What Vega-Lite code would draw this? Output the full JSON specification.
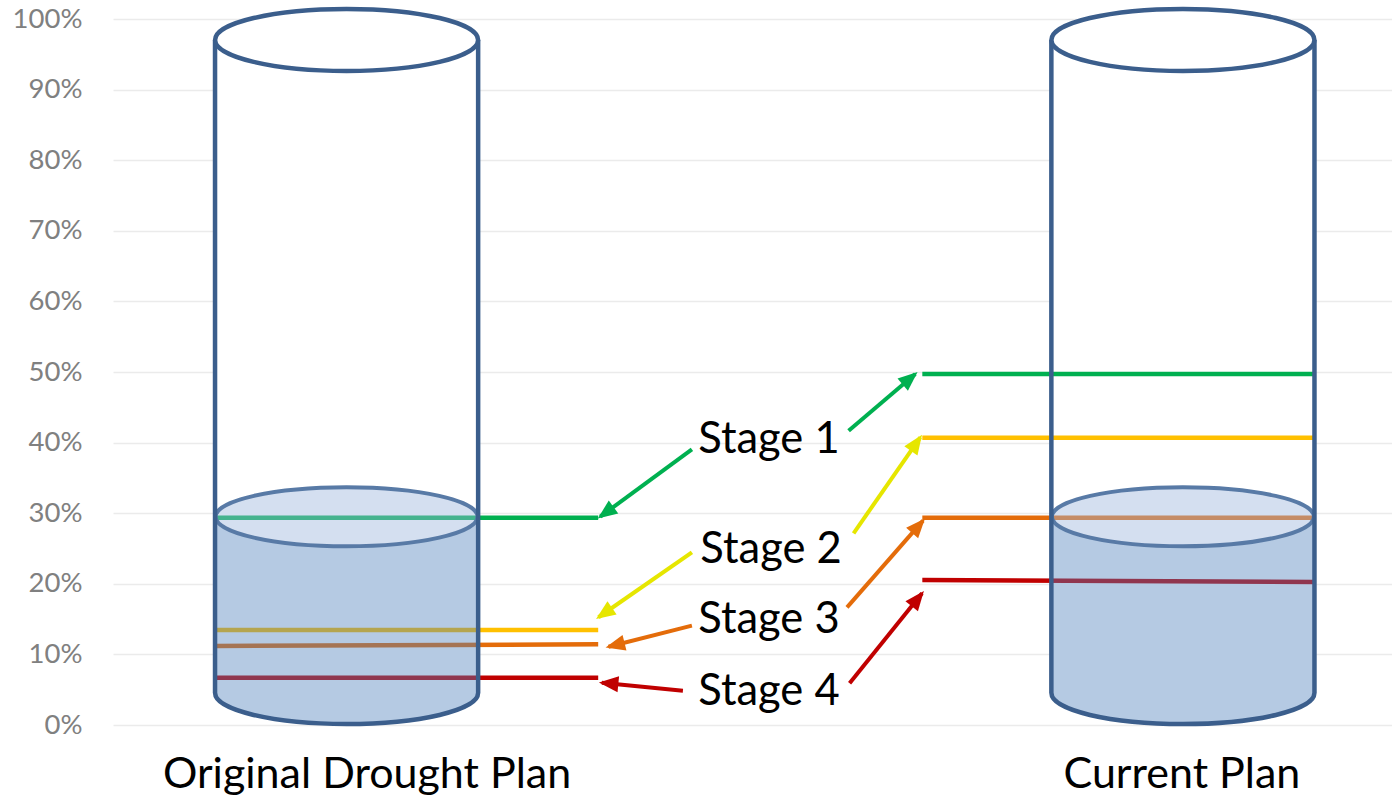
{
  "$schema": "https://vega.github.io/schema/vega-lite/v6.json",
  "width": 1279,
  "height": 706,
  "autosize": {"type": "none"},
  "padding": {"left": 113, "top": 19, "right": 0, "bottom": 74},
  "background": "white",
  "config": {
    "view": {"stroke": null},
    "axisY": {"grid": true, "gridColor": "#ebebeb", "gridWidth": 1.5, "domain": false, "ticks": false, "tickSize": 0, "labelFont": "Lato", "labelFontSize": 27.5, "labelColor": "#808080", "labelPadding": 31, "labelBaseline": "middle"},
    "axisX": {"grid": false, "domain": false, "ticks": false, "tickSize": 0, "labelFont": "Lato", "labelFontSize": 43, "labelColor": "#000000", "labelPadding": 28, "labelFlush": false, "labelOverlap": false, "labelLimit": 1000}
  },
  "datasets": {
    "cyl": [
      {"plan": "Original Drought Plan", "cx": 1.0, "xl": 0.6854, "xr": 1.3146, "bottom": 0.0453, "top": 0.9703, "water": 0.295},
      {"plan": "Current Plan", "cx": 3.0, "xl": 2.6854, "xr": 3.3146, "bottom": 0.0453, "top": 0.9703, "water": 0.295}
    ],
    "lines": [
      {"plan": "Original Drought Plan", "stage": "Stage 1", "x": 0.6854, "x2": 1.6017, "y": 0.2936, "y2": 0.2936},
      {"plan": "Original Drought Plan", "stage": "Stage 2", "x": 0.6854, "x2": 1.6017, "y": 0.1346, "y2": 0.1346},
      {"plan": "Original Drought Plan", "stage": "Stage 3", "x": 0.6854, "x2": 1.6017, "y": 0.1119, "y2": 0.1143},
      {"plan": "Original Drought Plan", "stage": "Stage 4", "x": 0.6854, "x2": 1.6017, "y": 0.067, "y2": 0.067},
      {"plan": "Current Plan", "stage": "Stage 1", "x": 2.3768, "x2": 3.3146, "y": 0.4972, "y2": 0.4972},
      {"plan": "Current Plan", "stage": "Stage 2", "x": 2.3768, "x2": 3.3146, "y": 0.4069, "y2": 0.4069},
      {"plan": "Current Plan", "stage": "Stage 3", "x": 2.3768, "x2": 3.3146, "y": 0.2936, "y2": 0.2936},
      {"plan": "Current Plan", "stage": "Stage 4", "x": 2.3768, "x2": 3.3146, "y": 0.2054, "y2": 0.2025}
    ],
    "arrows": [
      {"stage": "Stage 1", "side": "left", "x": 1.8258, "y": 0.3905, "x2": 1.6065, "y2": 0.295, "angle": -126.3},
      {"stage": "Stage 1", "side": "right", "x": 2.2005, "y": 0.4169, "x2": 2.36, "y2": 0.4972, "angle": 49.6},
      {"stage": "Stage 2", "side": "left", "x": 1.8258, "y": 0.2446, "x2": 1.6024, "y2": 0.1526, "angle": -124.8},
      {"stage": "Stage 2", "side": "right", "x": 2.2124, "y": 0.2715, "x2": 2.372, "y2": 0.4075, "angle": 34.8},
      {"stage": "Stage 3", "side": "left", "x": 1.8258, "y": 0.1407, "x2": 1.6263, "y2": 0.1109, "angle": -104.1},
      {"stage": "Stage 3", "side": "right", "x": 2.1967, "y": 0.1667, "x2": 2.3785, "y2": 0.2894, "angle": 41.3},
      {"stage": "Stage 4", "side": "left", "x": 1.8043, "y": 0.0486, "x2": 1.6105, "y2": 0.0599, "angle": -84.4},
      {"stage": "Stage 4", "side": "right", "x": 2.2029, "y": 0.0591, "x2": 2.3761, "y2": 0.1865, "angle": 38.8}
    ],
    "labels": [
      {"label": "Stage 1", "x": 1.841, "y": 0.3857},
      {"label": "Stage 2", "x": 1.846, "y": 0.2299},
      {"label": "Stage 3", "x": 1.841, "y": 0.1307},
      {"label": "Stage 4", "x": 1.841, "y": 0.0283}
    ]
  },
  "layer": [
    {
      "data": {"name": "cyl"},
      "mark": {"type": "rect", "fill": "white", "strokeWidth": 0},
      "encoding": {
        "x": {"field": "xl", "type": "quantitative", "title": null, "scale": {"domain": [0.4414, 3.5], "nice": false, "zero": false},
              "axis": {"values": [1.0478, 2.9964], "labelExpr": "datum.value < 2 ? 'Original Drought Plan' : 'Current Plan'"}},
        "x2": {"field": "xr"},
        "y": {"field": "bottom", "type": "quantitative", "title": null, "scale": {"domain": [0, 1], "nice": false, "zero": false},
              "axis": {"values": [0, 0.1, 0.2, 0.3, 0.4, 0.5, 0.6, 0.7, 0.8, 0.9, 1.0], "format": ".0%"}},
        "y2": {"field": "top"}
      }
    },
    {
      "data": {"name": "cyl"},
      "mark": {"type": "point", "shape": "M -1.31 0 C -1.31 0.163 -0.7235 0.295 0 0.295 C 0.7235 0.295 1.31 0.163 1.31 0 L 1.31 1.763 C 1.31 1.934 0.7235 2.073 0 2.073 C -0.7235 2.073 -1.31 1.934 -1.31 1.763 Z", "size": 40000, "filled": true, "fill": "white", "strokeWidth": 0, "opacity": 1},
      "encoding": {
        "x": {"field": "cx", "type": "quantitative", "title": null, "scale": {"domain": [0.4414, 3.5], "nice": false, "zero": false}},
        "y": {"field": "water", "type": "quantitative", "title": null, "scale": {"domain": [0, 1], "nice": false, "zero": false}}
      }
    },
    {
      "data": {"name": "lines"},
      "mark": {"type": "rule", "strokeWidth": 4.5, "strokeCap": "butt"},
      "encoding": {
        "x": {"field": "x", "type": "quantitative", "title": null, "scale": {"domain": [0.4414, 3.5], "nice": false, "zero": false}},
        "x2": {"field": "x2"},
        "y": {"field": "y", "type": "quantitative", "title": null, "scale": {"domain": [0, 1], "nice": false, "zero": false}},
        "y2": {"field": "y2"},
        "color": {"field": "stage", "type": "nominal", "legend": null, "scale": {"domain": ["Stage 1", "Stage 2", "Stage 3", "Stage 4"], "range": ["#00b050", "#ffc000", "#e46c0a", "#c00000"]}}
      }
    },
    {
      "data": {"name": "cyl"},
      "mark": {"type": "point", "shape": "M -1.31 0 C -1.31 0.163 -0.7235 0.295 0 0.295 C 0.7235 0.295 1.31 0.163 1.31 0 L 1.31 1.763 C 1.31 1.934 0.7235 2.073 0 2.073 C -0.7235 2.073 -1.31 1.934 -1.31 1.763 Z", "size": 40000, "filled": true, "fill": "#4f81bd", "fillOpacity": 0.42, "strokeWidth": 0, "opacity": 1},
      "encoding": {
        "x": {"field": "cx", "type": "quantitative", "title": null, "scale": {"domain": [0.4414, 3.5], "nice": false, "zero": false}},
        "y": {"field": "water", "type": "quantitative", "title": null, "scale": {"domain": [0, 1], "nice": false, "zero": false}}
      }
    },
    {
      "data": {"name": "cyl"},
      "mark": {"type": "point", "shape": "M -1.31 0 C -1.31 -0.163 -0.7235 -0.295 0 -0.295 C 0.7235 -0.295 1.31 -0.163 1.31 0 C 1.31 0.163 0.7235 0.295 0 0.295 C -0.7235 0.295 -1.31 0.163 -1.31 0 Z", "size": 40000, "filled": true, "fill": "#9cb7dd", "fillOpacity": 0.44, "stroke": "#587aa6", "strokeWidth": 4, "strokeOpacity": 1, "opacity": 1},
      "encoding": {
        "x": {"field": "cx", "type": "quantitative", "title": null, "scale": {"domain": [0.4414, 3.5], "nice": false, "zero": false}},
        "y": {"field": "water", "type": "quantitative", "title": null, "scale": {"domain": [0, 1], "nice": false, "zero": false}}
      }
    },
    {
      "data": {"name": "cyl"},
      "mark": {"type": "rule", "color": "#3b5e8c", "strokeWidth": 4.5},
      "encoding": {
        "x": {"field": "xl", "type": "quantitative", "title": null, "scale": {"domain": [0.4414, 3.5], "nice": false, "zero": false}},
        "y": {"field": "bottom", "type": "quantitative", "title": null, "scale": {"domain": [0, 1], "nice": false, "zero": false}},
        "y2": {"field": "top"}
      }
    },
    {
      "data": {"name": "cyl"},
      "mark": {"type": "rule", "color": "#3b5e8c", "strokeWidth": 4.5},
      "encoding": {
        "x": {"field": "xr", "type": "quantitative", "title": null, "scale": {"domain": [0.4414, 3.5], "nice": false, "zero": false}},
        "y": {"field": "bottom", "type": "quantitative", "title": null, "scale": {"domain": [0, 1], "nice": false, "zero": false}},
        "y2": {"field": "top"}
      }
    },
    {
      "data": {"name": "cyl"},
      "mark": {"type": "point", "shape": "M -1.315 0 C -1.315 0.1712 -0.7263 0.31 0 0.31 C 0.7263 0.31 1.315 0.1712 1.315 0", "size": 40000, "filled": false, "stroke": "#3b5e8c", "strokeWidth": 4.5, "opacity": 1},
      "encoding": {
        "x": {"field": "cx", "type": "quantitative", "title": null, "scale": {"domain": [0.4414, 3.5], "nice": false, "zero": false}},
        "y": {"field": "bottom", "type": "quantitative", "title": null, "scale": {"domain": [0, 1], "nice": false, "zero": false}}
      }
    },
    {
      "data": {"name": "cyl"},
      "mark": {"type": "point", "shape": "M -1.315 0 C -1.315 -0.1712 -0.7263 -0.31 0 -0.31 C 0.7263 -0.31 1.315 -0.1712 1.315 0 C 1.315 0.1712 0.7263 0.31 0 0.31 C -0.7263 0.31 -1.315 0.1712 -1.315 0 Z", "size": 40000, "filled": true, "fill": "white", "stroke": "#3b5e8c", "strokeWidth": 4.5, "opacity": 1},
      "encoding": {
        "x": {"field": "cx", "type": "quantitative", "title": null, "scale": {"domain": [0.4414, 3.5], "nice": false, "zero": false}},
        "y": {"field": "top", "type": "quantitative", "title": null, "scale": {"domain": [0, 1], "nice": false, "zero": false}}
      }
    },
    {
      "data": {"name": "arrows"},
      "mark": {"type": "rule", "strokeWidth": 4, "strokeCap": "butt"},
      "encoding": {
        "x": {"field": "x", "type": "quantitative", "title": null, "scale": {"domain": [0.4414, 3.5], "nice": false, "zero": false}},
        "x2": {"field": "x2"},
        "y": {"field": "y", "type": "quantitative", "title": null, "scale": {"domain": [0, 1], "nice": false, "zero": false}},
        "y2": {"field": "y2"},
        "color": {"field": "stage", "type": "nominal", "legend": null, "scale": {"domain": ["Stage 1", "Stage 2", "Stage 3", "Stage 4"], "range": ["#00b050", "#e6e600", "#e46c0a", "#c00000"]}}
      }
    },
    {
      "data": {"name": "arrows"},
      "mark": {"type": "point", "shape": "M 0 -0.03 L 0.08 0.165 L -0.08 0.165 Z", "size": 40000, "filled": true, "strokeWidth": 0, "opacity": 1},
      "encoding": {
        "x": {"field": "x2", "type": "quantitative", "title": null, "scale": {"domain": [0.4414, 3.5], "nice": false, "zero": false}},
        "y": {"field": "y2", "type": "quantitative", "title": null, "scale": {"domain": [0, 1], "nice": false, "zero": false}},
        "angle": {"field": "angle", "type": "quantitative", "scale": null},
        "color": {"field": "stage", "type": "nominal", "legend": null, "scale": {"domain": ["Stage 1", "Stage 2", "Stage 3", "Stage 4"], "range": ["#00b050", "#e6e600", "#e46c0a", "#c00000"]}}
      }
    },
    {
      "data": {"name": "labels"},
      "mark": {"type": "text", "align": "left", "baseline": "alphabetic", "font": "Lato", "fontSize": 43.5, "color": "#000000"},
      "encoding": {
        "x": {"field": "x", "type": "quantitative", "title": null, "scale": {"domain": [0.4414, 3.5], "nice": false, "zero": false}},
        "y": {"field": "y", "type": "quantitative", "title": null, "scale": {"domain": [0, 1], "nice": false, "zero": false}},
        "text": {"field": "label", "type": "nominal"}
      }
    }
  ],
  "resolve": {"scale": {"color": "independent"}}
}
